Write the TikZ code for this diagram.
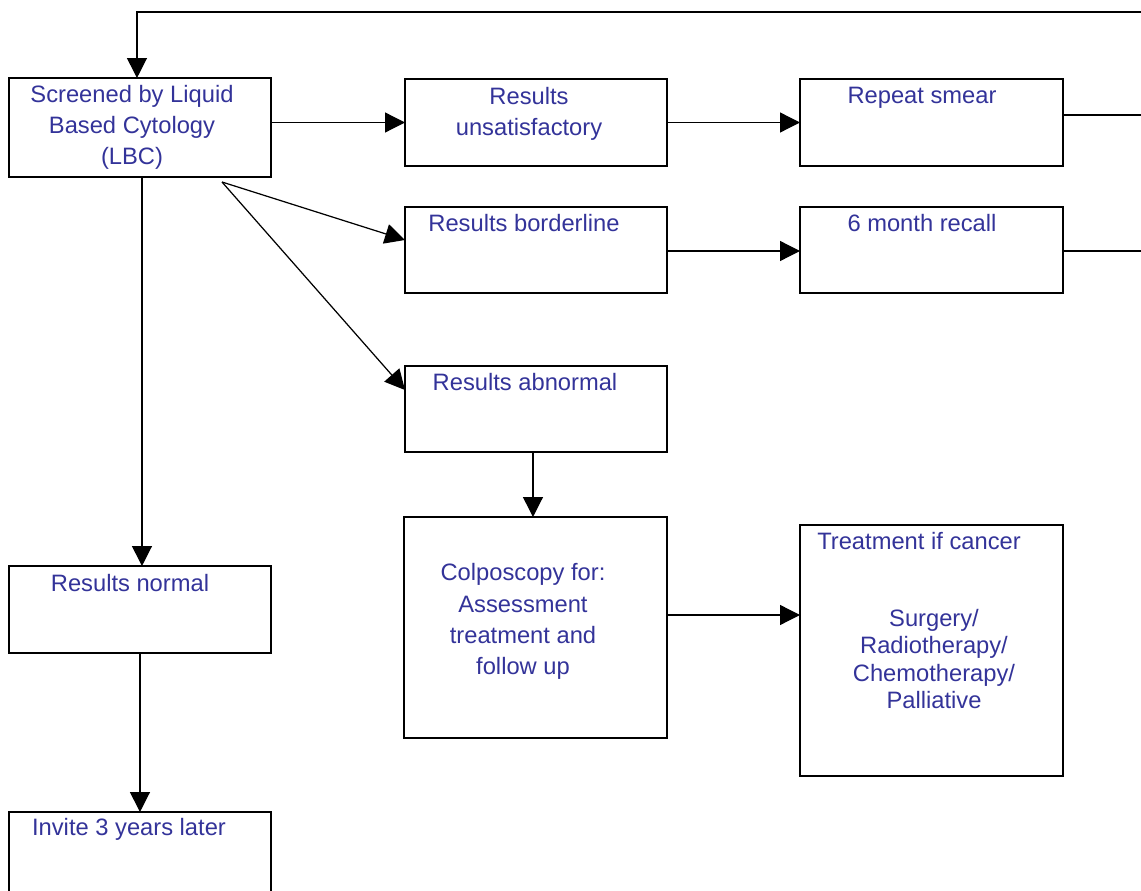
\documentclass[tikz,border=0pt]{standalone}
\usepackage{fontspec}
\setmainfont{Liberation Sans}
\usetikzlibrary{arrows.meta}
\definecolor{txtblue}{RGB}{51,51,153}

\begin{document}
\begin{tikzpicture}[x=0.02cm, y=-0.02cm,
    box/.style={draw, line width=0.75pt, anchor=north west, inner sep=0pt, outer sep=0pt, minimum width=5.24cm},
    txt/.style={anchor=north, inner sep=0pt, align=center, text=txtblue, font=\fontsize{13.5}{17.6}\selectfont},
    arr/.style={line width=0.7pt, -{Triangle[length=0.4cm, width=0.4cm]}},
    ln/.style={line width=0.7pt}]
    \clip (0,0) rectangle (1141,890);

    % Boxes
    \node[box, minimum height=1.98cm] (lbc) at (9,78) {};
    \node[box, minimum height=1.74cm] (unsat) at (405,79) {};
    \node[box, minimum height=1.74cm, minimum width=5.26cm] (repeat) at (800,79) {};
    \node[box, minimum height=1.72cm] (border) at (405,207) {};
    \node[box, minimum height=1.72cm, minimum width=5.26cm] (recall) at (800,207) {};
    \node[box, minimum height=1.72cm] (abn) at (405,366) {};
    \node[box, minimum height=4.42cm, minimum width=5.26cm] (colpo) at (404,517) {};
    \node[box, minimum height=5.02cm, minimum width=5.26cm] (treat) at (800,525) {};
    \node[box, minimum height=1.74cm] (normal) at (9,566) {};
    \node[box, minimum height=2cm] (invite) at (9,812) {};

    % Texts
    \node[txt] (lbc-t) at (132,85) {Screened by Liquid\\Based Cytology\\(LBC)};
    \node[txt] (unsat-t) at (529,87) {Results\\unsatisfactory};
    \node[txt] (repeat-t) at (922,87) {Repeat smear};
    \node[txt] (border-t) at (524,214) {Results borderline};
    \node[txt] (recall-t) at (922,214) {6 month recall};
    \node[txt] (abn-t) at (525,373) {Results abnormal};
    \node[txt, font=\fontsize{13.5}{17.9}\selectfont] (colpo-t) at (523,563) {Colposcopy for:\\Assessment\\treatment and\\follow up};
    \node[txt] (treat-t) at (919,532) {Treatment if cancer};
    \node[txt, font=\fontsize{13.5}{15.6}\selectfont] (treat-l) at (934,609) {Surgery/\\Radiotherapy/\\Chemotherapy/\\Palliative};
    \node[txt] (normal-t) at (130,574) {Results normal};
    \node[txt] (invite-t) at (129,818) {Invite 3 years later};

    % Connectors
    \coordinate (fork) at (222,182);
    \coordinate (loopR) at (1160,12);
    \coordinate (rsOut) at (1160,115);
    \coordinate (rcOut) at (1160,251);

    \draw[arr] (loopR) -| ([xshift=-0.06cm]lbc.north);
    \draw[ln] (rsOut -| repeat.east) -- (rsOut);
    \draw[ln] (rcOut -| recall.east) -- (rcOut);

    \draw[arr] (lbc.east |- unsat.west) -- (unsat.west);
    \draw[arr] (unsat.east) -- (repeat.west);
    \draw[arr] (fork) -- ([yshift=-0.66cm]border.north west);
    \draw[arr] (fork) -- ([yshift=-0.48cm]abn.north west);
    \draw[arr] ([yshift=-0.02cm]border.east) -- ([yshift=-0.02cm]recall.west);
    \draw[arr] ([xshift=-0.06cm]abn.south) -- ([xshift=-0.06cm]abn.south |- colpo.north);
    \draw[arr] ([yshift=0.25cm]colpo.east) -- ([yshift=0.25cm]colpo.east -| treat.west);
    \draw[arr] ([xshift=0.04cm]lbc.south) -- ([xshift=0.04cm]normal.north);
    \draw[arr] (normal.south) -- (invite.north);
\end{tikzpicture}
\end{document}
